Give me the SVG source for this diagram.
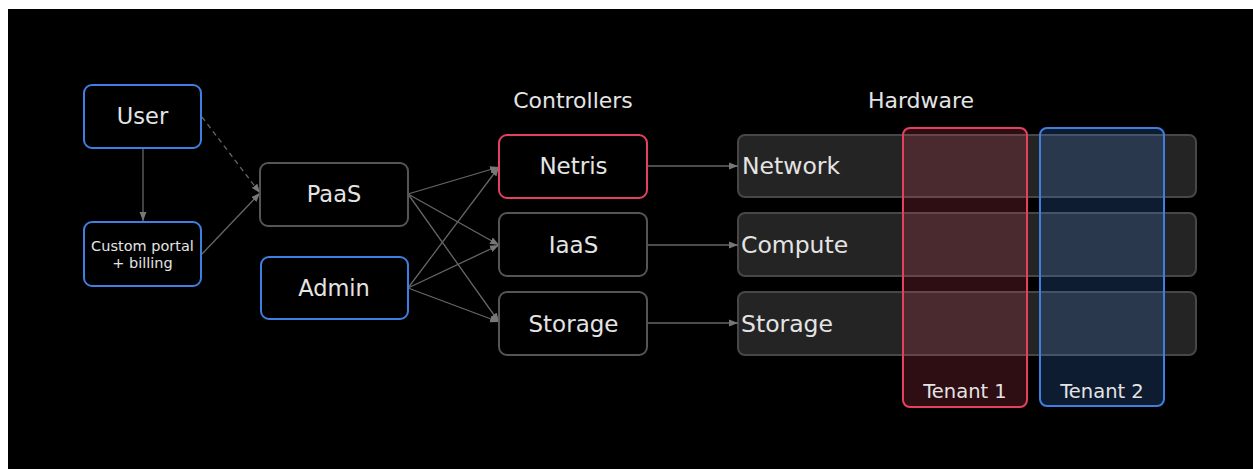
<svg xmlns="http://www.w3.org/2000/svg" width="1253" height="469" viewBox="0 0 1253 469">
<style>
.t{font-family:"DejaVu Sans","Liberation Sans",sans-serif;fill:#e4e4e4;text-anchor:middle}
.l{text-anchor:start}
.blue{fill:#000;stroke:#3f7fe0;stroke-width:2}
.gray{fill:#000;stroke:#555;stroke-width:2}
.red{fill:#000;stroke:#e5415e;stroke-width:2}
.bar{fill:#242424;stroke:#474747;stroke-width:2}
.c{fill:none;stroke:#666;stroke-width:1.3}
</style>
<defs>
<marker id="ah" markerUnits="userSpaceOnUse" markerWidth="10" markerHeight="8" refX="9" refY="4" orient="auto">
<path d="M0,0.5 L9,4 L0,7.5 Z" fill="#777"/>
</marker>
</defs>
<rect x="0" y="0" width="1253" height="469" fill="#fff"/>
<rect x="8" y="9" width="1245" height="460" fill="#000"/>

<g id="headers">
<text class="t" x="573" y="108" font-size="22">Controllers</text>
<text class="t" x="921" y="108" font-size="22">Hardware</text>
</g>

<g id="hardware">
<g id="hw-network"><rect class="bar" x="738" y="135" width="458" height="62" rx="7"/></g>
<g id="hw-compute"><rect class="bar" x="738" y="213" width="458" height="63" rx="7"/></g>
<g id="hw-storage"><rect class="bar" x="738" y="292" width="458" height="63" rx="7"/></g>
</g>

<g id="tenant1">
<rect x="903" y="128" width="124" height="279" rx="7" fill="#e5415e" fill-opacity="0.2" stroke="#e5415e" stroke-width="2"/>
<text class="t" x="965" y="398" font-size="19.5">Tenant 1</text>
</g>
<g id="tenant2">
<rect x="1040" y="128" width="124" height="278" rx="7" fill="#3f7fe0" fill-opacity="0.22" stroke="#3f7fe0" stroke-width="2"/>
<text class="t" x="1102" y="398" font-size="19.5">Tenant 2</text>
</g>

<g id="hw-labels">
<text class="t l" x="742" y="174" font-size="23.5">Network</text>
<text class="t l" x="741" y="253" font-size="23.5">Compute</text>
<text class="t l" x="741" y="332" font-size="23.5">Storage</text>
</g>

<g id="connectors">
<line class="c" x1="143" y1="148" x2="143" y2="221" marker-end="url(#ah)"/>
<line class="c" x1="202" y1="117" x2="260" y2="193" stroke-dasharray="5,4" marker-end="url(#ah)"/>
<line class="c" x1="202" y1="254" x2="260" y2="193" marker-end="url(#ah)"/>
<line class="c" x1="408" y1="194" x2="499" y2="167" marker-end="url(#ah)"/>
<line class="c" x1="408" y1="194" x2="499" y2="245" marker-end="url(#ah)"/>
<line class="c" x1="408" y1="194" x2="499" y2="322" marker-end="url(#ah)"/>
<line class="c" x1="408" y1="288" x2="499" y2="167" marker-end="url(#ah)"/>
<line class="c" x1="408" y1="288" x2="499" y2="245" marker-end="url(#ah)"/>
<line class="c" x1="408" y1="288" x2="499" y2="322" marker-end="url(#ah)"/>
<line class="c" x1="647" y1="166" x2="738" y2="166" marker-end="url(#ah)"/>
<line class="c" x1="647" y1="245" x2="738" y2="245" marker-end="url(#ah)"/>
<line class="c" x1="647" y1="323" x2="738" y2="323" marker-end="url(#ah)"/>
</g>

<g id="user">
<rect class="blue" x="84" y="85" width="117" height="63" rx="8"/>
<text class="t" x="142.5" y="124" font-size="22.5">User</text>
</g>
<g id="portal">
<rect class="blue" x="84" y="222" width="117" height="64" rx="8"/>
<text class="t" x="142.5" y="251" font-size="14.5">Custom portal</text>
<text class="t" x="142.5" y="268" font-size="14.5">+ billing</text>
</g>
<g id="paas">
<rect class="gray" x="260" y="163" width="148" height="63" rx="8"/>
<text class="t" x="334" y="202" font-size="22.5">PaaS</text>
</g>
<g id="admin">
<rect class="blue" x="261" y="257" width="147" height="62" rx="8"/>
<text class="t" x="334" y="296" font-size="22.5">Admin</text>
</g>
<g id="netris">
<rect class="red" x="499" y="135" width="148" height="63" rx="8"/>
<text class="t" x="573.5" y="174" font-size="23">Netris</text>
</g>
<g id="iaas">
<rect class="gray" x="499" y="213" width="148" height="63" rx="8"/>
<text class="t" x="573.5" y="253" font-size="23">IaaS</text>
</g>
<g id="storage">
<rect class="gray" x="499" y="292" width="148" height="63" rx="8"/>
<text class="t" x="573.5" y="332" font-size="23">Storage</text>
</g>
</svg>
